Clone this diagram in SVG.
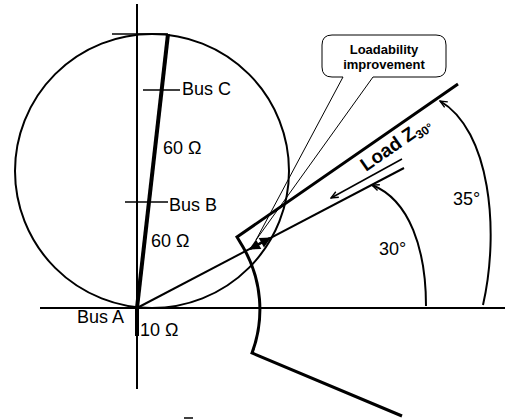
<svg xmlns="http://www.w3.org/2000/svg" width="529" height="420" viewBox="0 0 529 420">
<style>
.ln{stroke:#000;fill:none;stroke-width:2}
.thin{stroke:#000;fill:none;stroke-width:1}
.t{font-family:"Liberation Sans",Arial,sans-serif;font-size:18px;fill:#000}
.b{font-family:"Liberation Sans",Arial,sans-serif;font-weight:bold;fill:#000}
</style>
<defs>
<marker id="open" viewBox="0 0 10 10" refX="9" refY="5" markerWidth="9" markerHeight="9" orient="auto" markerUnits="userSpaceOnUse"><path d="M1,1.5 L9,5 L1,8.5" fill="none" stroke="#000" stroke-width="1.5"/></marker>
<marker id="solid" viewBox="0 0 10 10" refX="9" refY="5" markerWidth="13" markerHeight="11" orient="auto-start-reverse" markerUnits="userSpaceOnUse"><path d="M0,0 L10,5 L0,10 Z" fill="#000"/></marker>
</defs>
<rect width="529" height="420" fill="#fff"/>
<g id="callout">
<path d="M332,35 H436 Q446,35 446,45 V67 Q446,77 436,77 H373 L256,240 L343,77 H332 Q322,77 322,67 V45 Q322,35 332,35 Z" fill="#fff" stroke="#000" stroke-width="1"/>
<text class="b" font-size="13" x="384" y="54" text-anchor="middle">Loadability</text>
<text class="b" font-size="13" x="384" y="69" text-anchor="middle">improvement</text>
</g>
<g id="axes">
<line class="ln" x1="137" y1="4" x2="137" y2="389"/>
<line class="ln" x1="40" y1="308" x2="505" y2="308"/>
</g>
<g id="mho-circle">
<circle class="ln" cx="152" cy="171" r="137"/>
<line stroke="#000" stroke-width="1.5" x1="112" y1="34" x2="168" y2="34"/>
</g>
<g id="line-impedance">
<line stroke="#000" stroke-width="4" x1="137" y1="308" x2="168" y2="34"/>
<line stroke="#000" stroke-width="4" x1="137" y1="308" x2="137" y2="336"/>
<line stroke="#000" stroke-width="1.5" x1="143" y1="90" x2="180" y2="90"/>
<line stroke="#000" stroke-width="1.5" x1="125" y1="202" x2="168" y2="202"/>
</g>
<g id="bus-labels">
<text class="t" x="182" y="95">Bus C</text>
<text class="t" x="169" y="211">Bus B</text>
<text class="t" x="77" y="323">Bus A</text>
<text class="t" x="163" y="154">60 Ω</text>
<text class="t" x="151" y="247">60 Ω</text>
<text class="t" x="140" y="336">10 Ω</text>
</g>
<g id="characteristic">
<path d="M458,84 L237,237 L243,247 A124,124 0 0 1 252,353 L402,416" fill="none" stroke="#000" stroke-width="3" stroke-linejoin="miter"/>
</g>
<g id="connectors">
<line class="ln" x1="137" y1="308" x2="404" y2="168"/>
<line stroke="#000" stroke-width="1.5" x1="402" y1="159" x2="331" y2="198" marker-end="url(#open)"/>
<line stroke="#000" stroke-width="2.5" x1="250" y1="249" x2="270" y2="238" marker-start="url(#solid)" marker-end="url(#solid)"/>
<path class="ln" d="M426,306 C426,250 410,200 372,185" marker-end="url(#open)"/>
<path class="ln" d="M483,305 C500,230 490,130 440,101" marker-end="url(#open)"/>
<line stroke="#000" stroke-width="1.5" x1="184" y1="418" x2="193" y2="418"/>
</g>
<g id="angle-labels">
<text class="t" x="379" y="255">30°</text>
<text class="t" x="453" y="205">35°</text>
<text class="b" font-size="19" transform="translate(366,172) rotate(-35)">Load Z<tspan font-size="12" dy="4">30°</tspan></text>
</g>
</svg>
